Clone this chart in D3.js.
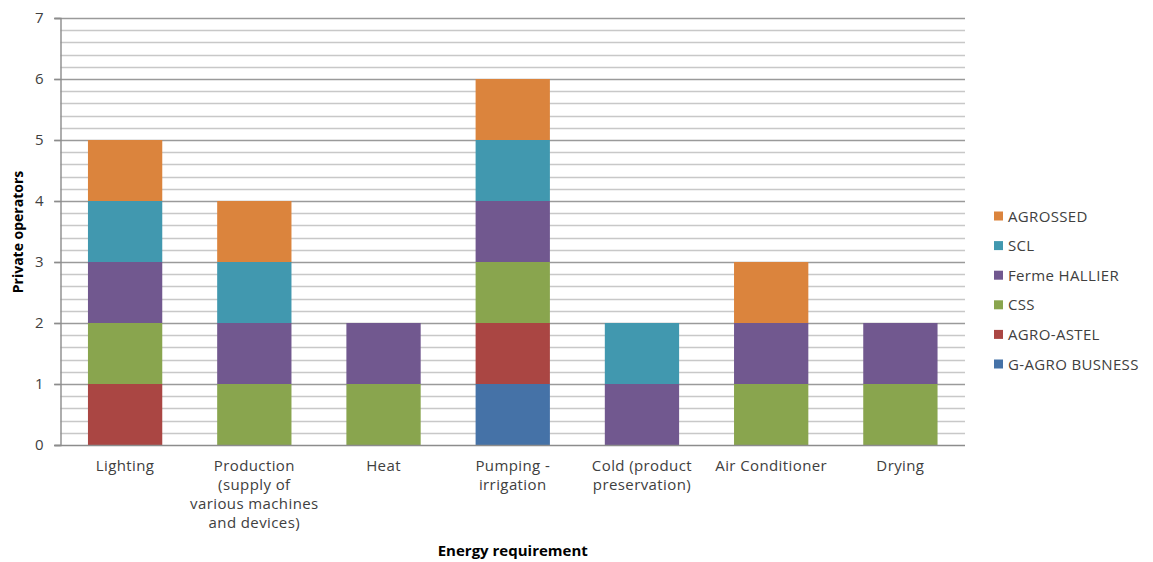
<!DOCTYPE html>
<html><head><meta charset="utf-8">
<script src="https://cdn.jsdelivr.net/npm/d3@7"></script>
<style>body{margin:0;background:#fff;}svg{display:block;font-family:"Open Sans",sans-serif;}</style>
</head><body><svg id="c" width="1153" height="562"></svg>
<script>
const categories = [
  ["Lighting"],
  ["Production", "(supply of", "various machines", "and devices)"],
  ["Heat"],
  ["Pumping -", "irrigation"],
  ["Cold (product", "preservation)"],
  ["Air Conditioner"],
  ["Drying"]
];
const seriesNames = ["G-AGRO BUSNESS", "AGRO-ASTEL", "CSS", "Ferme HALLIER", "SCL", "AGROSSED"];
const seriesColors = ["#4572A7", "#AA4643", "#89A54E", "#71588F", "#4198AF", "#DB843D"];
const gAgroBusness = [0, 0, 0, 1, 0, 0, 0];
const agroAstel    = [1, 0, 0, 1, 0, 0, 0];
const css          = [1, 1, 1, 1, 0, 1, 1];
const fermeHallier = [1, 1, 1, 1, 1, 1, 1];
const scl          = [1, 1, 0, 1, 1, 0, 0];
const agrossed     = [1, 1, 0, 1, 0, 1, 0];
const yTicks = [0, 1, 2, 3, 4, 5, 6, 7];

const seriesValues = [gAgroBusness, agroAstel, css, fermeHallier, scl, agrossed];
const svg = d3.select("#c");
const L = 60.5, R = 965, T = 18, B = 445;
const keys = categories.map((c, i) => i);
const x = d3.scaleBand().domain(keys).range([L, R]).paddingInner(0.425).paddingOuter(0.2125);
const y = d3.scaleLinear().domain([0, 7]).range([B, T]);

const rows = keys.map(i => {
  const o = {i};
  seriesNames.forEach((s, k) => o[s] = seriesValues[k][i]);
  return o;
});
const stack = d3.stack().keys(seriesNames)(rows);

// minor gridlines
const minor = d3.range(0, 7.001, 0.2).filter(v => Math.abs(v - Math.round(v)) > 1e-6);
svg.append("g").selectAll("line").data(minor).join("line")
  .attr("x1", L).attr("x2", R)
  .attr("y1", d => Math.round(y(d)) + 0.5).attr("y2", d => Math.round(y(d)) + 0.5)
  .attr("stroke", "#c8c8c8").attr("stroke-width", 1.4);
// major gridlines
svg.append("g").selectAll("line").data(yTicks.filter(v => v > 0)).join("line")
  .attr("x1", 54).attr("x2", R)
  .attr("y1", d => Math.round(y(d)) + 0.5).attr("y2", d => Math.round(y(d)) + 0.5)
  .attr("stroke", "#9a9a9a").attr("stroke-width", 1.4);

// bars
svg.append("g").selectAll("g").data(stack).join("g")
  .attr("fill", (d, k) => seriesColors[k])
  .selectAll("rect").data(d => d.filter(p => p[1] - p[0] > 0)).join("rect")
  .attr("x", d => x(d.data.i)).attr("width", x.bandwidth())
  .attr("y", d => y(d[1])).attr("height", d => y(d[0]) - y(d[1]));

// axes
const yAxis = svg.append("g").attr("transform", `translate(${L},0)`)
  .call(d3.axisLeft(y).tickValues(yTicks).tickSize(6).tickPadding(11).tickFormat(d3.format("d")));
yAxis.select(".domain").attr("stroke", "#8c8c8c").attr("stroke-width", 1.4);
yAxis.selectAll(".tick line").attr("stroke", "#8c8c8c").attr("stroke-width", 1.4);
yAxis.selectAll("text").attr("font-size", 15).attr("fill", "#404040").attr("font-family", "Open Sans");

svg.append("line").attr("x1", 54).attr("x2", R).attr("y1", B + 0.5).attr("y2", B + 0.5)
  .attr("stroke", "#8c8c8c").attr("stroke-width", 1.4);

// category labels
const xl = svg.append("g");
categories.forEach((lines, i) => {
  const t = xl.append("text").attr("text-anchor", "middle").attr("font-size", 15).attr("letter-spacing", 0.4)
    .attr("fill", "#404040")
    .attr("x", x(i) + x.bandwidth() / 2).attr("y", 471);
  lines.forEach((ln, j) => t.append("tspan").attr("x", x(i) + x.bandwidth() / 2).attr("dy", j ? 19 : 0).text(ln));
});

// axis titles
svg.append("text").attr("x", (L + R) / 2).attr("y", 556).attr("text-anchor", "middle")
  .attr("font-size", 15).attr("font-weight", "bold").attr("fill", "#000").text("Energy requirement");
svg.append("text").attr("transform", "translate(23,232) rotate(-90)").attr("text-anchor", "middle")
  .attr("font-size", 14).attr("font-weight", "bold").attr("fill", "#000").text("Private operators");

// legend
const lg = svg.append("g");
const legendOrder = seriesNames.map((s, k) => k).reverse();
legendOrder.forEach((k, r) => {
  const yy = 216 + r * 29.6;
  lg.append("rect").attr("x", 994).attr("y", yy - 4.5).attr("width", 9).attr("height", 9).attr("fill", seriesColors[k]);
  lg.append("text").attr("x", 1008).attr("y", yy + 5.5).attr("font-size", 15).attr("letter-spacing", 0.35)
    .attr("fill", "#404040").text(seriesNames[k]);
});
</script></body></html>
